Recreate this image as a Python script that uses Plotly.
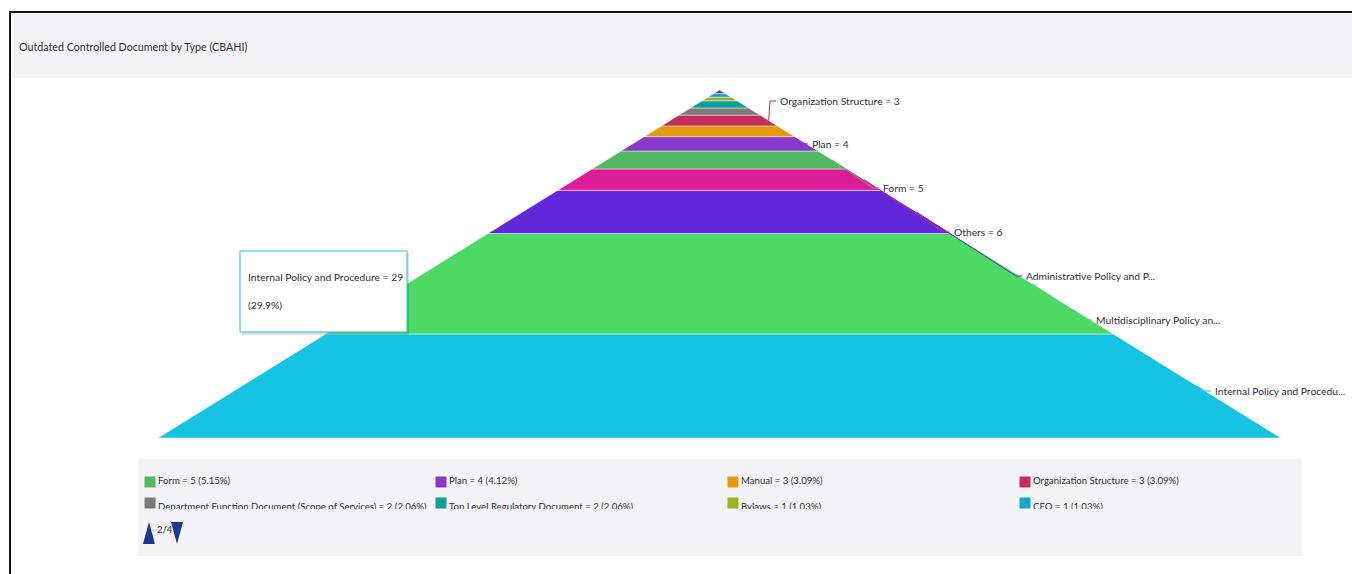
import plotly.graph_objects as go

# ---------------- data ----------------
categories = [
    "Internal Policy and Procedure",
    "Multidisciplinary Policy and Procedure",
    "Administrative Policy and Procedure",
    "Others",
    "Form",
    "Plan",
    "Manual",
    "Organization Structure",
    "Department Function Document (Scope of Services)",
    "Top Level Regulatory Document",
    "Bylaws",
    "CEO",
    "Guideline",
]
values = [29, 28, 12, 6, 5, 4, 3, 3, 2, 2, 1, 1, 1]
colors = [
    "#17C3E3", "#4CD964", "#6129D9", "#DD1C9A", "#52B963", "#8A38C8",
    "#E39B10", "#C72C5F", "#7A7A7A", "#0E9F99", "#9BB31F", "#13A8C7", "#6A2DC8",
]
labeled = [
    "Internal Policy and Procedure",
    "Multidisciplinary Policy and Procedure",
    "Administrative Policy and Procedure",
    "Others",
    "Form",
    "Plan",
    "Organization Structure",
]
title_text = "Outdated Controlled Document by Type (CBAHI)"
legend_page = 2
legend_pages = 4
tooltip_category = "Internal Policy and Procedure"

# ---------------- layout constants (pixels) ----------------
W, H = 1352, 574
APEX_PY, BASE_PY = 90, 438
CENTER_PX, HALF_BASE_PX = 719.5, 561.5
# data-label anchor positions (pixel x, pixel y)
label_pos_px = {
    "Organization Structure": (778, 101),
    "Plan": (810, 144),
    "Form": (881, 188),
    "Others": (952, 232),
    "Administrative Policy and Procedure": (1024, 276),
    "Multidisciplinary Policy and Procedure": (1094, 320),
    "Internal Policy and Procedure": (1213, 391),
}
FONT = "Lato, Roboto, sans-serif"
TXT = "#333333"
LABEL_SIZE = 10.3

total = sum(values)
px_per_x = 2 * HALF_BASE_PX
px_per_y = (BASE_PY - APEX_PY) / total


def half(y):
    return 0.5 * (total - y) / total


def dx(px):
    return (px - CENTER_PX) / px_per_x


def dy(py):
    return (BASE_PY - py) / px_per_y


fig = go.Figure()

# pyramid slices
cum = 0
mids = {}
for name, v, c in zip(categories, values, colors):
    y0, y1 = cum, cum + v
    xs = [-half(y0), half(y0), half(y1), -half(y1), -half(y0)]
    ys = [y0, y0, y1, y1, y0]
    fig.add_trace(go.Scatter(
        x=xs, y=ys, fill="toself", fillcolor=c, mode="lines",
        line=dict(color="rgba(255,255,255,0.45)", width=1),
        hoverinfo="skip", showlegend=False,
    ))
    mids[name] = (y0 + y1) / 2
    cum = y1

# data labels + connectors
annotations = []
for name in labeled:
    i = categories.index(name)
    v = values[i]
    c = colors[i]
    lx, ly = label_pos_px[name]
    m = mids[name]
    fig.add_trace(go.Scatter(
        x=[half(m), dx(lx - 8), dx(lx - 2)],
        y=[m, dy(ly), dy(ly)],
        mode="lines", line=dict(color=c, width=1),
        hoverinfo="skip", showlegend=False,
    ))
    text = f"{name} = {v}"
    if len(text) > 27:
        text = text[:27] + "..."
    annotations.append(dict(
        x=dx(lx), y=dy(ly), xref="x", yref="y", text=text,
        showarrow=False, xanchor="left", yanchor="middle",
        font=dict(family=FONT, size=LABEL_SIZE, color=TXT),
    ))

# ---------------- legend (manual, clipped subplot) ----------------
LEG_X0, LEG_X1, LEG_Y0, LEG_BOX_Y1, LEG_CLIP = 138, 1302, 459, 556, 509
col_sq = [150, 441, 733, 1025]
col_txt = [158, 449, 741, 1033]
rows_txt = [482, 507.5]
rows_sq = [482, 503]
per_row = 4
start = (legend_page - 1) * per_row
sq_x, sq_y, sq_c, t_x, t_y, t_t = [], [], [], [], [], []
for k in range(2 * per_row):
    idx = start + k
    if idx >= len(categories):
        break
    r, cidx = divmod(k, per_row)
    v = values[idx]
    sq_x.append(col_sq[cidx]); sq_y.append(rows_sq[r]); sq_c.append(colors[idx])
    t_x.append(col_txt[cidx]); t_y.append(rows_txt[r])
    t_t.append(f"{categories[idx]} = {v} ({v / total * 100:.2f}%)")

fig.add_trace(go.Scatter(
    x=sq_x, y=sq_y, mode="markers", xaxis="x2", yaxis="y2",
    marker=dict(symbol="square", size=11, color=sq_c, line=dict(width=0)),
    hoverinfo="skip", showlegend=False, cliponaxis=True,
))
fig.add_trace(go.Scatter(
    x=t_x, y=t_y, mode="text", text=t_t, textposition="middle right",
    xaxis="x2", yaxis="y2", textfont=dict(family=FONT, size=9.6, color=TXT),
    hoverinfo="skip", showlegend=False, cliponaxis=True,
))

# pager text
annotations.append(dict(
    x=155 / W, y=1 - 529 / H, xref="paper", yref="paper",
    text=f"{legend_page}/{legend_pages}", showarrow=False,
    xanchor="left", yanchor="middle",
    font=dict(family=FONT, size=9.5, color=TXT)))

# title
annotations.append(dict(
    x=17 / W, y=1 - 47 / H, xref="paper", yref="paper", text=title_text,
    showarrow=False, xanchor="left", yanchor="middle",
    font=dict(family=FONT, size=10.7, color=TXT),
))

# tooltip
ti = categories.index(tooltip_category)
tv = values[ti]
annotations += [
    dict(x=246 / W, y=1 - 277 / H, xref="paper", yref="paper",
         text=f"{tooltip_category} = {tv}", showarrow=False,
         xanchor="left", yanchor="middle",
         font=dict(family=FONT, size=LABEL_SIZE, color=TXT)),
    dict(x=246 / W, y=1 - 305 / H, xref="paper", yref="paper",
         text=f"({tv / total * 100:.1f}%)", showarrow=False,
         xanchor="left", yanchor="middle",
         font=dict(family=FONT, size=LABEL_SIZE, color=TXT)),
]


def prect(x0, y0, x1, y1, **kw):
    return dict(type="rect", xref="paper", yref="paper",
                x0=x0 / W, x1=x1 / W, y0=1 - y1 / H, y1=1 - y0 / H, **kw)


def ppath(pts, **kw):
    d = "M " + " L ".join(f"{x / W:.5f},{1 - y / H:.5f}" for x, y in pts) + " Z"
    return dict(type="path", xref="paper", yref="paper", path=d, **kw)


shapes = [
    prect(12, 14, W, 78, fillcolor="#F4F4F7", line=dict(width=0), layer="below"),
    prect(10, 11, W, 13, fillcolor="#111111", line=dict(width=0), layer="below"),
    prect(9, 11, 11, H, fillcolor="#111111", line=dict(width=0), layer="below"),
    prect(LEG_X0, LEG_Y0, LEG_X1, LEG_BOX_Y1, fillcolor="#F4F4F7",
          line=dict(width=0), layer="below"),
    prect(242, 253, 409, 335, fillcolor="rgba(0,0,0,0.12)",
          line=dict(width=0), layer="above"),
    prect(240, 251, 407, 332, fillcolor="#FFFFFF",
          line=dict(color=colors[ti], width=1), layer="above"),
    # pager arrows
    ppath([(143, 544), (149, 522), (155, 544)], fillcolor="#1B3A8E",
          line=dict(width=0), layer="above"),
    ppath([(171, 522), (183, 522), (177, 544)], fillcolor="#1B3A8E",
          line=dict(width=0), layer="above"),
]

fig.update_layout(
    width=W, height=H, margin=dict(l=0, r=0, t=0, b=0),
    paper_bgcolor="#FFFFFF", plot_bgcolor="rgba(0,0,0,0)",
    showlegend=False, annotations=annotations, shapes=shapes,
    xaxis=dict(range=[dx(0), dx(W)], domain=[0, 1], visible=False, fixedrange=True),
    yaxis=dict(range=[dy(H), dy(0)], domain=[0, 1], visible=False, fixedrange=True),
    xaxis2=dict(range=[LEG_X0, LEG_X1], domain=[LEG_X0 / W, LEG_X1 / W],
                visible=False, anchor="y2", fixedrange=True),
    yaxis2=dict(range=[LEG_CLIP, LEG_Y0], domain=[1 - LEG_CLIP / H, 1 - LEG_Y0 / H],
                visible=False, anchor="x2", fixedrange=True),
)

fig.write_html("out.html")
